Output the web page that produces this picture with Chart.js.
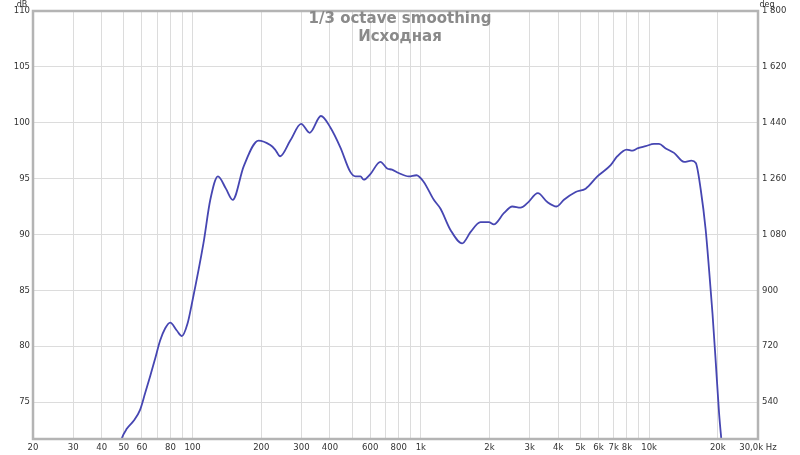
<!DOCTYPE html>
<html>
<head>
<meta charset="utf-8">
<script src="https://cdn.jsdelivr.net/npm/chart.js@4.4.1/dist/chart.umd.min.js"></script>
<style>
  html, body { margin: 0; padding: 0; background: #fff; }
  canvas { display: block; }
</style>
</head>
<body>
<canvas id="fr-chart" width="800" height="455"></canvas>
<script>
// frequency response, 1/3 octave smoothing
var freqHz = [48.5, 49, 51.5, 55.1, 58.9, 62, 65.2, 68.6, 72.1, 75.9, 79.8, 85.3, 89.8, 95, 99.3, 111.6,
  119.6, 129.2, 140, 150, 167.5, 194.6, 219, 230, 242, 268, 299, 326, 365, 401, 444, 491, 517, 544, 562, 601,
  665, 712, 748, 800, 885, 957, 1030, 1140, 1220, 1349, 1518, 1650, 1826, 1986, 2088, 2310, 2516, 2736, 2928,
  3256, 3582, 3934, 4236, 4768, 5274, 5936, 6788, 7260, 7980, 8452, 8890, 9664, 10512, 11052, 11830, 12860,
  14230, 15332, 16018, 16840, 17700, 18320, 18960, 19600, 20260, 20800];
var levelDb = [71.4, 71.75, 72.6, 73.3, 74.3, 75.8, 77.3, 78.9, 80.5, 81.6, 82.1, 81.4, 80.9, 82.0, 83.8, 89.2,
  93.1, 95.2, 94.1, 93.1, 96.1, 98.4, 98.0, 97.6, 97.0, 98.4, 99.9, 99.1, 100.6, 99.6, 97.8, 95.6, 95.2, 95.2, 94.9, 95.4,
  96.5, 95.9, 95.8, 95.5, 95.2, 95.3, 94.7, 93.1, 92.3, 90.4, 89.2, 90.2, 91.1, 91.1, 90.9, 91.9, 92.5, 92.4, 92.8,
  93.7, 92.9, 92.5, 93.1, 93.8, 94.1, 95.2, 96.2, 97.0, 97.6, 97.5, 97.7, 97.9, 98.1, 98.1, 97.7, 97.3,
  96.5, 96.6, 96.4, 94.0, 90.4, 86.8, 82.9, 78.5, 74.0, 71.3];

// axis ticks
var freqGrid = [20, 30, 40, 50, 60, 70, 80, 90, 100, 200, 300, 400, 500, 600, 700, 800, 900,
  1000, 2000, 3000, 4000, 5000, 6000, 7000, 8000, 9000, 10000, 20000, 30000];
var freqLabels = {20: '20', 30: '30', 40: '40', 50: '50', 60: '60', 80: '80', 100: '100', 200: '200',
  300: '300', 400: '400', 600: '600', 800: '800', 1000: '1k', 2000: '2k', 3000: '3k', 4000: '4k',
  5000: '5k', 6000: '6k', 7000: '7k', 8000: '8k', 10000: '10k', 20000: '20k', 30000: '30,0k Hz'};
var dbTicks = [75, 80, 85, 90, 95, 100, 105, 110];
var degTicks = [540, 720, 900, 1080, 1260, 1440, 1620, 1800];

var dbMin = 71.69, dbMax = 110;
var degMin = 420.9, degMax = 1800;

var points = freqHz.map(function(f, i) { return {x: f, y: levelDb[i]}; });

var tickFont = {family: 'DejaVu Sans', size: 8.5};

var frame = {
  id: 'frame',
  afterDraw: function(chart) {
    var ctx = chart.ctx, a = chart.chartArea;
    ctx.save();
    ctx.strokeStyle = '#b4b4b4';
    ctx.lineWidth = 2.5;
    ctx.strokeRect(a.left, a.top, a.right - a.left, a.bottom - a.top);

    ctx.fillStyle = '#8a8a8a';
    ctx.font = 'bold 15px "DejaVu Sans"';
    ctx.textAlign = 'center';
    ctx.textBaseline = 'middle';
    ctx.fillText('1/3 octave smoothing', 400, 19);
    ctx.fillText('Исходная', 400, 37);

    ctx.fillStyle = '#333';
    ctx.font = '8px "DejaVu Sans"';
    ctx.fillText('dB', 22, 5);
    ctx.fillText('deg', 767, 5);
    ctx.restore();
  }
};

new Chart(document.getElementById('fr-chart'), {
  type: 'line',
  data: {
    datasets: [{
      data: points,
      borderColor: '#4646b2',
      borderWidth: 1.8,
      pointRadius: 0,
      fill: false,
      cubicInterpolationMode: 'monotone'
    }]
  },
  options: {
    responsive: false,
    animation: false,
    devicePixelRatio: 1,
    layout: {padding: {top: 11, left: 0, right: 0, bottom: 0}},
    plugins: {legend: {display: false}, tooltip: {enabled: false}, title: {display: false}},
    scales: {
      x: {
        type: 'logarithmic',
        min: 20,
        max: 30000,
        afterBuildTicks: function(scale) {
          scale.ticks = freqGrid.map(function(v) { return {value: v}; });
        },
        afterFit: function(scale) { scale.height = 16; },
        grid: {color: '#dcdcdc', lineWidth: 1, drawTicks: false},
        border: {display: false},
        ticks: {
          autoSkip: false, maxRotation: 0, padding: 4, color: '#333', font: tickFont,
          callback: function(v) { return freqLabels[v] || ''; }
        }
      },
      y: {
        position: 'left',
        min: dbMin,
        max: dbMax,
        afterBuildTicks: function(scale) {
          scale.ticks = dbTicks.map(function(v) { return {value: v}; });
        },
        afterFit: function(scale) { scale.width = 33; },
        grid: {color: '#dcdcdc', lineWidth: 1, drawTicks: false},
        border: {display: false},
        ticks: {padding: 3, color: '#333', font: tickFont}
      },
      deg: {
        position: 'right',
        min: degMin,
        max: degMax,
        afterBuildTicks: function(scale) {
          scale.ticks = degTicks.map(function(v) { return {value: v}; });
        },
        afterFit: function(scale) { scale.width = 42; },
        grid: {display: false, drawTicks: false},
        border: {display: false},
        ticks: {
          padding: 4, color: '#333', font: tickFont,
          callback: function(v) { return String(v).replace(/\B(?=(\d{3})+(?!\d))/g, ' '); }
        }
      }
    }
  },
  plugins: [frame]
});
</script>
</body>
</html>
